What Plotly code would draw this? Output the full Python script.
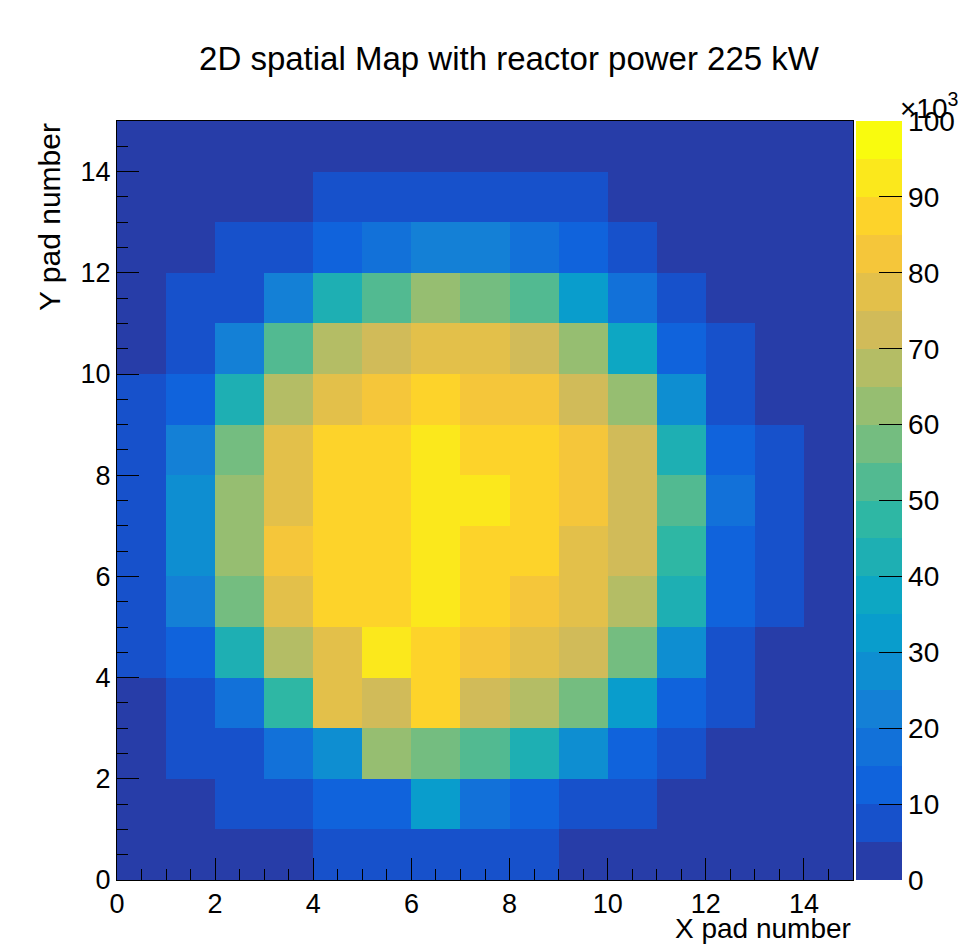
import numpy as np
import plotly.graph_objects as go

# ---- data (values in counts; rows = Y pad 0..14, cols = X pad 0..14)
x_edges = list(range(16))
y_edges = list(range(16))
z_thousands = [
    [1.8, 2.4, 3.1, 4.2, 6.3, 7.1, 7.8, 7.4, 6.0, 4.6, 3.3, 2.5, 1.9, 1.5, 1.2],
    [2.6, 4.1, 6.8, 9.2, 11.4, 13.6, 31.5, 17.8, 12.3, 8.9, 6.1, 4.3, 3.0, 2.2, 1.6],
    [3.4, 5.9, 9.3, 16.7, 27.4, 62.8, 57.6, 53.2, 41.5, 26.3, 13.1, 7.9, 4.6, 3.1, 2.2],
    [4.2, 8.6, 18.4, 46.3, 77.9, 73.4, 86.2, 71.8, 66.5, 56.9, 31.2, 11.7, 6.4, 3.9, 2.7],
    [5.3, 11.9, 43.8, 67.2, 78.6, 91.4, 88.3, 81.7, 76.9, 72.1, 58.4, 28.1, 8.2, 4.8, 3.2],
    [5.8, 22.6, 57.3, 77.4, 86.9, 88.7, 93.2, 87.1, 83.8, 78.2, 68.9, 43.1, 12.6, 5.4, 3.6],
    [6.1, 26.4, 62.5, 82.3, 88.2, 89.4, 94.1, 89.6, 85.7, 79.3, 73.5, 48.2, 13.8, 5.9, 3.8],
    [6.2, 27.1, 61.9, 79.6, 87.8, 89.1, 93.6, 91.2, 86.4, 82.6, 72.8, 51.7, 16.4, 6.3, 3.9],
    [5.9, 21.8, 56.4, 78.3, 86.5, 88.9, 92.4, 89.8, 87.3, 81.9, 71.6, 42.7, 11.2, 5.6, 3.7],
    [5.4, 10.7, 41.9, 68.3, 77.2, 83.6, 86.8, 84.1, 81.5, 74.2, 61.8, 26.9, 8.4, 4.7, 3.3],
    [4.6, 8.3, 23.7, 53.4, 66.8, 71.9, 76.4, 77.3, 73.1, 62.9, 36.2, 12.4, 6.9, 4.1, 2.9],
    [3.7, 6.6, 9.8, 21.4, 42.6, 52.7, 61.3, 58.2, 53.6, 33.4, 17.2, 7.6, 4.4, 3.2, 2.3],
    [2.8, 4.3, 7.2, 9.6, 13.4, 18.1, 23.5, 22.4, 17.6, 12.8, 8.1, 4.7, 3.3, 2.4, 1.8],
    [2.1, 2.9, 3.8, 4.6, 6.4, 8.2, 9.1, 8.7, 7.5, 5.8, 4.2, 3.1, 2.3, 1.7, 1.3],
    [1.4, 1.9, 2.5, 3.0, 3.6, 4.1, 4.4, 4.3, 3.9, 3.4, 2.8, 2.2, 1.7, 1.3, 1.0],
]
z = np.array(z_thousands) * 1000.0
x_ticks = [0, 2, 4, 6, 8, 10, 12, 14]
cbar_tickvals = [0, 10000, 20000, 30000, 40000, 50000, 60000, 70000, 80000, 90000, 100000]
cbar_ticktext = ["0", "10", "20", "30", "40", "50", "60", "70", "80", "90", "100"]

# ---- ROOT kBird palette, 20 contour bands
stops = [0.0, 0.125, 0.25, 0.375, 0.5, 0.625, 0.75, 0.875, 1.0]
red = [0.2082, 0.0592, 0.0780, 0.0232, 0.1802, 0.5301, 0.8186, 0.9956, 0.9764]
green = [0.1664, 0.3599, 0.5041, 0.6419, 0.7178, 0.7492, 0.7328, 0.7862, 0.9832]
blue = [0.5293, 0.8684, 0.8385, 0.7914, 0.6425, 0.4662, 0.3499, 0.1968, 0.0539]
ncol, nband = 255, 20
colorscale = []
for k in range(nband):
    idx = min(int((k + 0.99) * ncol / nband), ncol - 1)
    f = idx / (ncol - 1)
    r = np.interp(f, stops, red); g = np.interp(f, stops, green); b = np.interp(f, stops, blue)
    c = f"rgb({int(round(r*255))},{int(round(g*255))},{int(round(b*255))})"
    colorscale.append([k / nband, c])
    colorscale.append([(k + 1) / nband, c])

FONT = "Liberation Sans, Arial, Helvetica, sans-serif"

# layout geometry (pixels)
W, H = 967, 946
ML, MR, MT, MB = 117, 5, 121, 66
PW = W - ML - MR
plot_right_px = 853
dom_right = (plot_right_px - ML) / PW
cbar_x = (856 - ML) / PW

fig = go.Figure(go.Heatmap(
    x=x_edges, y=y_edges, z=z,
    zmin=0, zmax=100000, colorscale=colorscale,
    colorbar=dict(
        x=cbar_x, xanchor="left", xpad=0, y=0.5, yanchor="middle", ypad=0,
        len=1, lenmode="fraction", thickness=46, thicknessmode="pixels",
        outlinewidth=0, ticks="inside", ticklen=23, tickwidth=1, tickcolor="black",
        tickvals=cbar_tickvals, ticktext=cbar_ticktext,
        tickfont=dict(family=FONT, size=28, color="black"),
    ),
    hoverongaps=False,
))

axis_common = dict(
    showgrid=False, zeroline=False, ticks="inside", ticklen=22, tickwidth=1, tickcolor="black",
    showline=True, linecolor="black", linewidth=1, mirror=True,
    tickfont=dict(family=FONT, size=27, color="black"),
    minor=dict(ticks="inside", ticklen=11, tickwidth=1, tickcolor="black", dtick=0.5, tick0=0),
)

fig.update_xaxes(range=[0, 15], tickvals=x_ticks, domain=[0, dom_right], **axis_common)
fig.update_yaxes(range=[0, 15], tickvals=x_ticks, **axis_common)

def px_x(p):
    return (p - ML) / PW

def px_y(p):
    return (H - MB - p) / (H - MT - MB)

fig.update_layout(
    width=W, height=H,
    margin=dict(l=ML, r=MR, t=MT, b=MB, autoexpand=False),
    plot_bgcolor="white", paper_bgcolor="white",
    title=dict(text="2D spatial Map with reactor power 225 kW", x=509/W, xanchor="center",
               xref="container", yref="container", y=1 - 58/H, yanchor="middle",
               font=dict(family=FONT, size=33, color="black")),
    annotations=[
        dict(text="X pad number", xref="paper", yref="paper", x=px_x(853), xanchor="right",
             y=px_y(929), yanchor="middle", showarrow=False,
             font=dict(family=FONT, size=28, color="black")),
        dict(text="Y pad number", xref="paper", yref="paper", x=px_x(49), xanchor="center",
             y=1.0, yanchor="top", textangle=-90, showarrow=False,
             font=dict(family=FONT, size=30, color="black")),
        dict(text="×10<sup>3</sup>", xref="paper", yref="paper", x=px_x(898), xanchor="left",
             y=px_y(106), yanchor="middle", showarrow=False,
             font=dict(family=FONT, size=28, color="black")),
    ],
)

fig.write_html("out.html")
